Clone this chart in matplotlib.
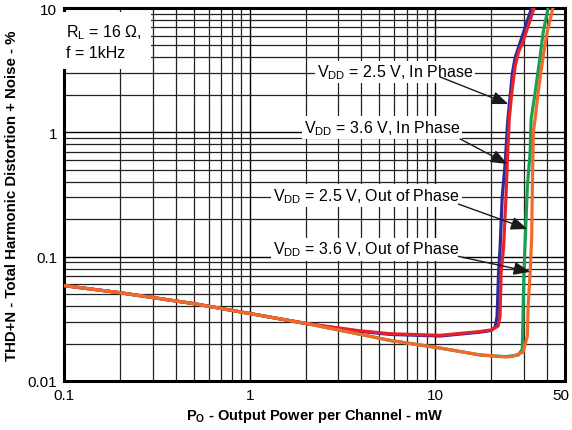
import matplotlib
matplotlib.use("Agg")
import matplotlib.pyplot as plt
from matplotlib.ticker import FixedLocator, NullFormatter, LogLocator
from matplotlib.transforms import ScaledTranslation

plt.rcParams['font.family'] = ['Liberation Sans', 'DejaVu Sans']
plt.rcParams['mathtext.fontset'] = 'custom'
plt.rcParams['mathtext.rm'] = 'Liberation Sans'
plt.rcParams['mathtext.it'] = 'Liberation Sans:italic'
plt.rcParams['mathtext.bf'] = 'Liberation Sans:bold'

# curve data (Po in mW, THD+N in %)
po_25_in = [0.1, 0.2, 0.5, 1.14, 2.04, 3.79, 5.7, 10.6, 17.4, 20.0, 21.0, 21.5, 21.9, 22.3,
            22.9, 23.8, 24.5, 25.4, 26.0, 26.9, 29.0, 33.0]
thd_25_in = [0.0585, 0.0513, 0.0419, 0.0337, 0.0289, 0.0252, 0.0237, 0.023, 0.0247, 0.0255, 0.0272, 0.033, 0.075, 0.115,
             0.3, 0.58, 1.2, 2.1, 3.0, 4.0, 5.6, 10.0]
po_36_in = [0.1, 0.2, 0.5, 1.14, 2.04, 3.79, 5.7, 10.6, 17.4, 20.1, 21.8, 22.3, 22.6, 23.3,
            24.0, 24.4, 25.0, 25.9, 26.9, 28.0, 29.7, 34.0]
thd_36_in = [0.0585, 0.0513, 0.0419, 0.0337, 0.0289, 0.0255, 0.024, 0.0233, 0.025, 0.0258, 0.0277, 0.0333, 0.075, 0.12,
             0.3, 0.58, 1.28, 2.2, 3.4, 4.4, 5.4, 10.0]
po_25_out = [0.1, 0.2, 0.5, 1.14, 2.04, 3.79, 5.7, 10.6, 17.4, 24.0, 28.0, 29.4, 29.6, 30.0,
             30.5, 31.3, 32.4, 32.8, 34.5, 36.7, 38.1, 40.5]
thd_25_out = [0.0585, 0.0513, 0.0419, 0.0337, 0.0289, 0.024, 0.0212, 0.0184, 0.0162, 0.0157, 0.0162, 0.018, 0.03, 0.075,
              0.139, 0.37, 0.695, 1.28, 2.11, 4.12, 6.42, 10.0]
po_36_out = [0.1, 0.2, 0.5, 1.14, 2.04, 3.79, 5.7, 10.6, 17.4, 24.0, 26.3, 29.7, 31.3, 31.6,
             32.4, 33.0, 33.3, 33.7, 34.5, 35.8, 38.1, 40.0, 43.0]
thd_36_out = [0.0585, 0.0513, 0.0419, 0.0337, 0.0289, 0.024, 0.0212, 0.0184, 0.0162, 0.0156, 0.0158, 0.0171, 0.023, 0.04,
              0.075, 0.139, 0.37, 1.0, 1.3, 2.11, 4.12, 6.42, 10.0]

labels = ["V$_{\\mathrm{DD}}$ = 2.5 V, In Phase", "V$_{\\mathrm{DD}}$ = 3.6 V, In Phase",
          "V$_{\\mathrm{DD}}$ = 2.5 V, Out of Phase", "V$_{\\mathrm{DD}}$ = 3.6 V, Out of Phase"]
label_pos = [(6.07, 3.06), (5.17, 1.10), (4.24, 0.308), (4.24, 0.115)]
arrow_from = [(10.6, 2.79), (13.6, 0.885), (13.3, 0.265), (13.3, 0.1006)]
arrow_to = [(24.7, 1.69), (24.4, 0.557), (31.3, 0.167), (32.4, 0.0754)]

x_ticks = [0.1, 1, 10, 50]
x_ticklabels = ["0.1", "1", "10", "50"]
y_ticks = [0.01, 0.1, 1, 10]
y_ticklabels = ["0.01", "0.1", "1", "10"]

fig = plt.figure(figsize=(5.72, 4.31), dpi=100)
ax = fig.add_axes([0.112, 0.1137, 0.876, 0.8654])
ax.set_xscale('log')
ax.set_yscale('log')
ax.set_xlim(0.1, 50)
ax.set_ylim(0.01, 10)

ax.xaxis.set_major_locator(FixedLocator(x_ticks))
ax.set_xticklabels(x_ticklabels)
ax.yaxis.set_major_locator(FixedLocator(y_ticks))
ax.set_yticklabels(y_ticklabels)
ax.xaxis.set_minor_locator(LogLocator(base=10, subs=range(2, 10)))
ax.yaxis.set_minor_locator(LogLocator(base=10, subs=range(2, 10)))
ax.xaxis.set_minor_formatter(NullFormatter())
ax.yaxis.set_minor_formatter(NullFormatter())
ax.tick_params(which='both', length=0, labelsize=11, pad=5)
last = ax.get_xticklabels()[-1]
last.set_transform(last.get_transform() + ScaledTranslation(-3 / 72, 0, fig.dpi_scale_trans))
ax.grid(which='major', color='black', linewidth=1.0)
ax.grid(which='minor', color='#222222', linewidth=0.9)
ax.set_axisbelow(True)
for s in ax.spines.values():
    s.set_linewidth(2.2)

ax.plot(po_25_in, thd_25_in, color='#2b2b9c', linewidth=2.3, zorder=3)
ax.plot(po_36_in, thd_36_in, color='#e8202e', linewidth=2.3, zorder=4)
ax.plot(po_25_out, thd_25_out, color='#18a050', linewidth=2.3, zorder=3)
ax.plot(po_36_out, thd_36_out, color='#f26a2a', linewidth=2.3, zorder=4)

for lab, pos, a0, a1 in zip(labels, label_pos, arrow_from, arrow_to):
    ax.text(pos[0], pos[1], lab, fontsize=11.5, ha='center', va='center', zorder=5,
            bbox=dict(facecolor='white', edgecolor='none', pad=1.5))
    ax.annotate('', xy=a1, xytext=a0, zorder=5,
                arrowprops=dict(arrowstyle='-|>,head_length=1.0,head_width=0.4',
                                color='#1a1a1a', linewidth=1.0, shrinkA=0, shrinkB=0))

ax.text(0.004, 0.962, "R$_{\\mathrm{L}}$ = 16 Ω,\nf = 1kHz", transform=ax.transAxes,
        fontsize=11.5, ha='left', va='top', linespacing=1.35, zorder=5,
        bbox=dict(facecolor='white', edgecolor='none', boxstyle='square,pad=0.55'))

ax.set_xlabel("P$_\\mathbf{O}$ - Output Power per Channel - mW", fontsize=10.5,
              fontweight='bold', labelpad=3)
ax.set_ylabel("THD+N - Total Harmonic Distortion + Noise - %", fontsize=10.8,
              fontweight='bold', labelpad=6)

fig.savefig("out.png", dpi=100)
